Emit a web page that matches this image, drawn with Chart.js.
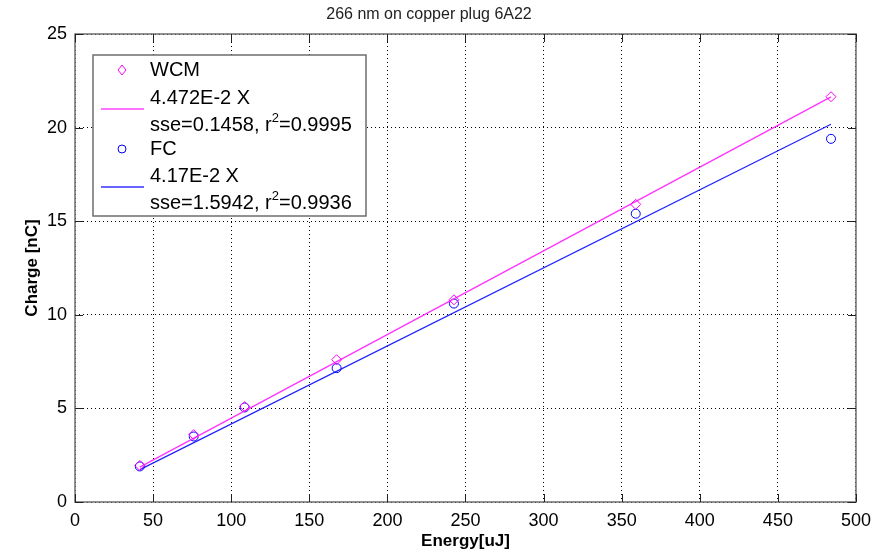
<!DOCTYPE html>
<html>
<head>
<meta charset="utf-8">
<script src="https://cdn.jsdelivr.net/npm/chart.js@4/dist/chart.umd.min.js"></script>
<style>
  html, body { margin: 0; padding: 0; background: #fff; }
  #wrap { width: 879px; height: 556px; }
</style>
</head>
<body>
<div id="wrap"><canvas id="chargeChart" width="879" height="556"></canvas></div>
<script>
// Measured values
const energy = [41.5, 76, 108.6, 167.5, 242.6, 359, 484];
const wcmCharge = [1.95, 3.6, 5.1, 7.6, 10.8, 15.9, 21.65];
const fcCharge = [1.9, 3.5, 5.05, 7.15, 10.6, 15.4, 19.4];

// Fit lines (endpoints at first / last energy)
const fitEnergy = [41.5, 484];
const wcmFit = [1.86, 21.64];
const fcFit = [1.73, 20.18];

const xTicks = [0, 50, 100, 150, 200, 250, 300, 350, 400, 450, 500];
const yTicks = [0, 5, 10, 15, 20, 25];

const legendRows = [
  { label: "WCM", marker: "diamond", color: "#ff00ff" },
  { label: "4.472E-2 X", line: true, color: "#ff44ff" },
  { label: "sse=0.1458, r", sup: "2", after: "=0.9995" },
  { label: "FC", marker: "circle", color: "#0000ff" },
  { label: "4.17E-2 X", line: true, color: "#3333ff" },
  { label: "sse=1.5942, r", sup: "2", after: "=0.9936" },
];

const FONT = "'Liberation Sans', Arial, sans-serif";

const toPoints = (xs, ys) => xs.map((x, i) => ({ x: x, y: ys[i] }));

// Axes box with inward ticks, MATLAB style
const boxPlugin = {
  id: "matlabBox",
  afterDatasetsDraw: (chart) => {
    const { ctx, chartArea: a, scales } = chart;
    ctx.save();
    ctx.strokeStyle = "#6e6e6e";
    ctx.lineWidth = 1.5;
    ctx.strokeRect(a.left, a.top, a.right - a.left, a.bottom - a.top);
    ctx.strokeStyle = "#222";
    ctx.lineWidth = 1;
    const len = 8;
    ctx.beginPath();
    xTicks.forEach((v) => {
      const px = Math.round(scales.x.getPixelForValue(v)) + 0.5;
      ctx.moveTo(px, a.bottom); ctx.lineTo(px, a.bottom - len);
      ctx.moveTo(px, a.top); ctx.lineTo(px, a.top + len);
    });
    yTicks.forEach((v) => {
      const py = Math.round(scales.y.getPixelForValue(v)) + 0.5;
      ctx.moveTo(a.left, py); ctx.lineTo(a.left + len, py);
      ctx.moveTo(a.right, py); ctx.lineTo(a.right - len, py);
    });
    ctx.stroke();
    ctx.restore();
  },
  afterDraw: (chart) => {
    // Legend box
    const { ctx } = chart;
    const bx = 93, by = 55, bw = 273, bh = 161;
    ctx.save();
    ctx.fillStyle = "#fff";
    ctx.fillRect(bx, by, bw, bh);
    ctx.strokeStyle = "#6e6e6e";
    ctx.lineWidth = 1.5;
    ctx.strokeRect(bx, by, bw, bh);
    const rowY = [70, 98, 125, 149, 176, 203];
    ctx.textBaseline = "middle";
    ctx.textAlign = "left";
    legendRows.forEach((row, i) => {
      const y = rowY[i];
      if (row.marker === "diamond") {
        ctx.strokeStyle = row.color;
        ctx.lineWidth = 1;
        ctx.beginPath();
        ctx.moveTo(122, y - 5); ctx.lineTo(126, y); ctx.lineTo(122, y + 5); ctx.lineTo(118, y);
        ctx.closePath();
        ctx.stroke();
      } else if (row.marker === "circle") {
        ctx.strokeStyle = row.color;
        ctx.lineWidth = 1;
        ctx.beginPath();
        ctx.arc(122, y, 4, 0, Math.PI * 2);
        ctx.stroke();
      }
      if (row.line) {
        ctx.strokeStyle = row.color;
        ctx.lineWidth = 1.5;
        ctx.beginPath();
        ctx.moveTo(101, y + 11);
        ctx.lineTo(144, y + 11);
        ctx.stroke();
      }
      ctx.fillStyle = "#000";
      ctx.font = "20px " + FONT;
      ctx.fillText(row.label, 150, y);
      if (row.sup) {
        const w = ctx.measureText(row.label).width;
        ctx.font = "13px " + FONT;
        ctx.fillText(row.sup, 150 + w, y - 7);
        const w2 = ctx.measureText(row.sup).width;
        ctx.font = "20px " + FONT;
        ctx.fillText(row.after, 150 + w + w2, y);
      }
    });
    ctx.restore();
  },
};

const gridCfg = {
  color: "#000",
  lineWidth: 1,
  drawTicks: false,
};
const dottedBorder = { display: false, dash: [1, 3] };

new Chart(document.getElementById("chargeChart").getContext("2d"), {
  data: {
    datasets: [
      {
        type: "scatter",
        label: "WCM",
        data: toPoints(energy, wcmCharge),
        pointStyle: "rectRot",
        pointRadius: 5,
        borderColor: "#ff00ff",
        backgroundColor: "rgba(0,0,0,0)",
        borderWidth: 1,
      },
      {
        type: "line",
        label: "WCM fit",
        data: toPoints(fitEnergy, wcmFit),
        borderColor: "#ff33ff",
        borderWidth: 1.3,
        pointRadius: 0,
        fill: false,
      },
      {
        type: "scatter",
        label: "FC",
        data: toPoints(energy, fcCharge),
        pointStyle: "circle",
        pointRadius: 4.5,
        borderColor: "#0000ff",
        backgroundColor: "rgba(0,0,0,0)",
        borderWidth: 1,
      },
      {
        type: "line",
        label: "FC fit",
        data: toPoints(fitEnergy, fcFit),
        borderColor: "#2222ff",
        borderWidth: 1.3,
        pointRadius: 0,
        fill: false,
      },
    ],
  },
  options: {
    responsive: false,
    animation: false,
    layout: { padding: { left: 0, right: 21, top: 0, bottom: 0 } },
    plugins: {
      legend: { display: false },
      tooltip: { enabled: false },
      title: {
        display: true,
        text: "266 nm on copper plug 6A22",
        color: "#222",
        font: { family: FONT, size: 16, weight: "normal" },
        padding: { top: 5.4, bottom: 9.4 },
      },
    },
    scales: {
      x: {
        type: "linear",
        min: 0,
        max: 500,
        afterBuildTicks: (scale) => { scale.ticks = xTicks.map((v) => ({ value: v })); },
        afterFit: (scale) => { scale.height = 54; },
        border: dottedBorder,
        grid: gridCfg,
        ticks: {
          color: "#000",
          padding: 8,
          maxRotation: 0,
          font: { family: FONT, size: 18 },
        },
        title: {
          display: true,
          text: "Energy[uJ]",
          color: "#000",
          font: { family: FONT, size: 17, weight: "bold" },
          padding: { top: 0, bottom: 4 },
        },
      },
      y: {
        type: "linear",
        min: 0,
        max: 25,
        afterBuildTicks: (scale) => { scale.ticks = yTicks.map((v) => ({ value: v })); },
        afterFit: (scale) => { scale.width = 75; },
        border: dottedBorder,
        grid: gridCfg,
        ticks: {
          color: "#000",
          padding: 8,
          font: { family: FONT, size: 18 },
        },
        title: {
          display: true,
          text: "Charge [nC]",
          color: "#000",
          font: { family: FONT, size: 17, weight: "bold" },
          padding: { top: 22, bottom: 0 },
        },
      },
    },
  },
  plugins: [boxPlugin],
});
</script>
</body>
</html>
